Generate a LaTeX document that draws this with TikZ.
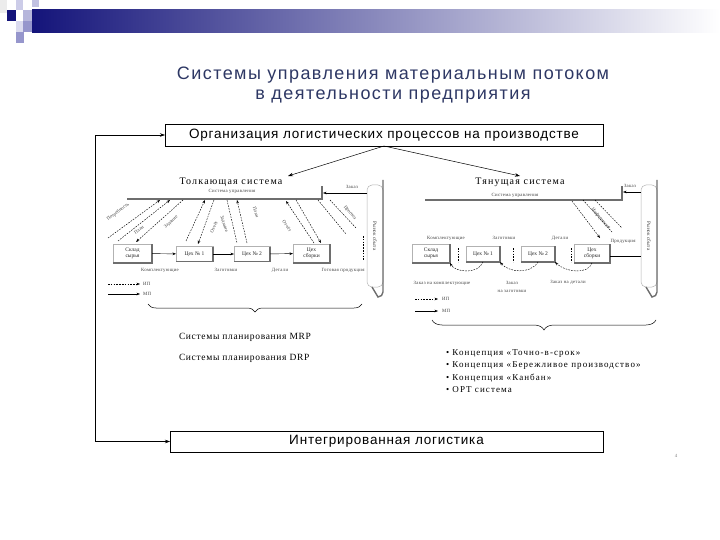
\documentclass[tikz,border=0pt]{standalone}
\usepackage{fontspec}
\setmainfont{Liberation Serif}
\newfontfamily\arialf{Liberation Sans}
\usetikzlibrary{arrows.meta,decorations.pathreplacing}
\definecolor{navy}{RGB}{20,20,122}
\definecolor{titlec}{RGB}{45,55,100}
\definecolor{sq1}{RGB}{150,150,204}
\definecolor{sq2}{RGB}{204,204,232}
\definecolor{shc}{RGB}{110,110,110}
\begin{document}
\begin{tikzpicture}[x=1pt,y=-1pt,
  every node/.style={inner sep=0pt, outer sep=0pt},
  mainbox/.style={draw, line width=0.6pt, minimum height=22pt, font=\arialf\fontsize{13.5}{15}\selectfont\addfontfeature{LetterSpace=6}},
  ttl/.style={font=\arialf\fontsize{18}{20}\selectfont\addfontfeature{LetterSpace=8}, text=titlec},
  sbox/.style={draw=gray!60, line width=0.4pt, fill=white, align=center, font=\fontsize{5.5}{6.2}\selectfont, text=black!85},
  tinyl/.style={font=\fontsize{4.8}{5.2}\selectfont\addfontfeature{LetterSpace=6}, text=black!75},
  tinyr/.style={font=\fontsize{4.8}{5.2}\selectfont, text=black!75},
  small/.style={font=\fontsize{9.5}{10}\selectfont\addfontfeature{LetterSpace=7}},
  sysl/.style={font=\fontsize{10}{11}\selectfont\addfontfeature{LetterSpace=12}},
  sh/.style={line width=1.4pt, draw=shc},
  arr/.style={-{Stealth[length=5pt,width=3.5pt]}, line width=0.5pt},
  sarr/.style={-{Stealth[length=3.5pt,width=2.6pt]}, line width=0.45pt},
  dsh/.style={dash pattern=on 1.6pt off 1.2pt, line width=0.45pt, -{Stealth[length=3.5pt,width=2.6pt]}},
  dl/.style={dash pattern=on 1.6pt off 1.2pt, line width=0.45pt},
  mkt/.style={draw=gray!60, line width=0.5pt, rounded corners=5pt, minimum width=16pt, minimum height=102pt},
]
\useasboundingbox (0,0) rectangle (720,540);
% ---------- header ----------
\shade[left color=navy, right color=white] (32,10) rectangle (720,33);
\fill[gray!15] (0,0) rectangle (7,13);
\fill[sq2] (16,0) rectangle (23,10);
\fill[sq2!80!sq1] (32,0) rectangle (39,7);
\fill[navy] (7,10) rectangle (16,21);
\fill[sq1!70!white] (23,10) rectangle (32,21);
\fill[sq2!70!white] (16,21) rectangle (23,32);
\fill[sq1] (23,21) rectangle (32,32);
\fill[sq1] (16,32) rectangle (24,43);
% ---------- title ----------
\node[ttl] (t1) at (393,75) {Системы управления материальным потоком};
\node[ttl] (t2) at (393,97) {в деятельности предприятия};
% ---------- main boxes ----------
\node[mainbox, minimum width=438pt] (org) at (384,135) {Организация логистических процессов на производстве};
\node[mainbox, minimum width=433pt, minimum height=21pt] (int) at (386.5,441.5) {Интегрированная логистика};
\coordinate (loop) at (95,300);
\draw[arr] (loop) |- (org.west);
\draw[arr] (loop) |- (int.west);
\coordinate (pushend) at (288,176);
\coordinate (pullend) at (520,176);
\draw[arr] (org.south) -- (pushend);
\draw[arr] (org.south) -- (pullend);
% ================= PUSH SYSTEM =================
\node[sysl] (pusht) at (231,182) {Толкающая система};
\node[tinyl] (cu1) at (232,191) {Система управления};
\coordinate (cu1ne) at (322,186);
\coordinate (cu1sw) at (127,199);
\draw[sh] (cu1sw) -- (322,199) -- (cu1ne);
\node[mkt] (mk1) at (375,236) {};
\node[tinyr, rotate=-90, font=\fontsize{5.2}{5.2}\selectfont] at (mk1) {Рынок сбыта};
\draw[sh] ([yshift=5pt]mk1.north east) -- ([yshift=-5pt]mk1.south east) arc (0:-90:5pt) -- ([xshift=5pt]mk1.south west);
\coordinate (z1) at (323,193);
\draw[sarr] (mk1.west |- z1) -- (z1);
\node[tinyl] at (352,187) {Заказ};
% boxes
\node[sbox, minimum width=39pt, minimum height=19pt] (s1) at (132.5,253.5) {Склад\\сырья};
\node[sbox, minimum width=37pt, minimum height=15pt] (a1) at (194.5,254) {Цех № 1};
\node[sbox, minimum width=36pt, minimum height=15pt] (b1) at (252,254) {Цех № 2};
\node[sbox, minimum width=37pt, minimum height=19pt] (c1) at (311.5,253.5) {Цех\\сборки};
\foreach \n in {s1,a1,b1,c1} \draw[sh] (\n.north east) -- (\n.south east) -- (\n.south west);
\draw[sarr] (s1) -- (a1);
\draw[sarr] (a1) -- (b1);
\draw[sarr] (b1) -- (c1);
\draw[dl] (363,236) -- (363,260);
\node[tinyl] at (160,270) {Комплектующие};
\node[tinyl] at (226,270) {Заготовки};
\node[tinyl] at (280,270) {Детали};
\node[tinyl] at (343,270) {Готовая продукция};
% dashed diagonals
\draw[dsh] (108,238) -- (160,200);
\draw[dsh] (118,241) -- (170,200);
\draw[dsh] (183,200) -- (136,242);
\node[tinyr, rotate=37] at (118,212) {Потребность};
\node[tinyr, rotate=37] at (139,230) {План};
\node[tinyr, rotate=42] at (171,222) {Задание};
\draw[dsh] (186,241) -- (205,200);
\draw[dsh] (214,200) -- (198,244);
\node[tinyr, rotate=65] at (214,227) {Отчёт};
\draw[dsh] (247,243) -- (237,200);
\draw[dl] (227,200) -- (237,243);
\node[tinyr, rotate=-72] at (224,224) {Задание};
\node[tinyr, rotate=-72] at (256,212) {План};
\draw[dsh] (314,243) -- (286,201);
\draw[dsh] (296,200) -- (321,243);
\node[tinyr, rotate=-55] at (287,226) {Отчёт};
\draw[dl] (318,200) -- (346,234);
\draw[dl] (330,200) -- (356,228);
\node[tinyr, rotate=-50] at (350,213) {Прогноз};
% legend
\coordinate (l1a) at (108,284); \coordinate (l1b) at (140,284);
\coordinate (l2a) at (108,294); \coordinate (l2b) at (140,294);
\draw[dsh] (l1a) -- (l1b);
\draw[sarr] (l2a) -- (l2b);
\node[tinyl, anchor=west] at (143,284) {ИП};
\node[tinyl, anchor=west] at (143,294) {МП};
% brace
\draw[decorate, decoration={brace, mirror, amplitude=8pt}, line width=0.5pt] (148,304) -- (362,304);
\node[small, anchor=west] (mrp) at (179,337) {Системы планирования MRP};
\node[small, anchor=west] (drp) at (179,358) {Системы планирования DRP};
% ================= PULL SYSTEM =================
\node[sysl] (pullt) at (520,182) {Тянущая система};
\node[tinyl] (cu2) at (515,195) {Система управления};
\draw[sh] (425,200) -- (622,200) -- (622,186);
\node[mkt] (mk2) at (649,236) {};
\node[tinyr, rotate=-90, font=\fontsize{5.2}{5.2}\selectfont] at (mk2) {Рынок сбыта};
\draw[sh] ([yshift=5pt]mk2.north east) -- ([yshift=-5pt]mk2.south east) arc (0:-90:5pt) -- ([xshift=5pt]mk2.south west);
\coordinate (z2) at (623,192);
\draw[sarr] (mk2.west |- z2) -- (z2);
\node[tinyl] at (630,186) {Заказ};
\node[sbox, minimum width=38pt, minimum height=19pt] (s2) at (431,253.5) {Склад\\сырья};
\node[sbox, minimum width=34pt, minimum height=16pt] (a2) at (483,254) {Цех № 1};
\node[sbox, minimum width=34pt, minimum height=16pt] (b2) at (538,254) {Цех № 2};
\node[sbox, minimum width=36pt, minimum height=19pt] (c2) at (592,253.5) {Цех\\сборки};
\foreach \n in {s2,a2,b2,c2} \draw[sh] (\n.north east) -- (\n.south east) -- (\n.south west);
\draw[line width=0.5pt] (c2.east |- 0,256) -- (mk2.west |- 0,256);
\node[tinyl] at (446,238) {Комплектующие};
\node[tinyl] at (504,238) {Заготовки};
\node[tinyl] at (560,238) {Детали};
\node[tinyl] at (623,241) {Продукция};
\foreach \x in {458,513,571} {\draw[dl] (\x,248) -- (\x,262);}
\draw[dsh] (a2.south) .. controls (478,275) and (455,272) .. (s2.south east);
\draw[dsh] (b2.south) .. controls (530,275) and (508,272) .. (a2.south east);
\draw[dsh] (c2.south) .. controls (588,275) and (565,272) .. (b2.south east);
\node[tinyl] at (442,283) {Заказ на комплектующие};
\node[tinyl] at (512,283) {Заказ};
\node[tinyl] at (512,291) {на заготовки};
\node[tinyl] at (568,282) {Заказ на детали};
\draw[dsh] (572,201) -- (600,238);
\draw[dl] (583,200) -- (612,232);
\draw[dl] (595,200) -- (622,228);
\node[tinyr, rotate=-48] at (601,219) {Информация};
% legend
\coordinate (r1a) at (415,299); \coordinate (r1b) at (438,299);
\coordinate (r2a) at (415,311); \coordinate (r2b) at (438,311);
\draw[dsh] (r1a) -- (r1b);
\draw[sarr] (r2a) -- (r2b);
\node[tinyl, anchor=west] at (442,299) {ИП};
\node[tinyl, anchor=west] at (442,311) {МП};
\draw[decorate, decoration={brace, mirror, amplitude=10pt}, line width=0.5pt] (432,320) -- (656,320);
\node[small, anchor=west, align=left, font=\fontsize{9}{12.3}\selectfont\addfontfeature{LetterSpace=12}] (bul) at (446,371)
  {• Концепция «Точно-в-срок»\\• Концепция «Бережливое производство»\\• Концепция «Канбан»\\• OPT система};
\node[tinyl, text=gray] (pg) at (676,456) {4};
\end{tikzpicture}
\end{document}
